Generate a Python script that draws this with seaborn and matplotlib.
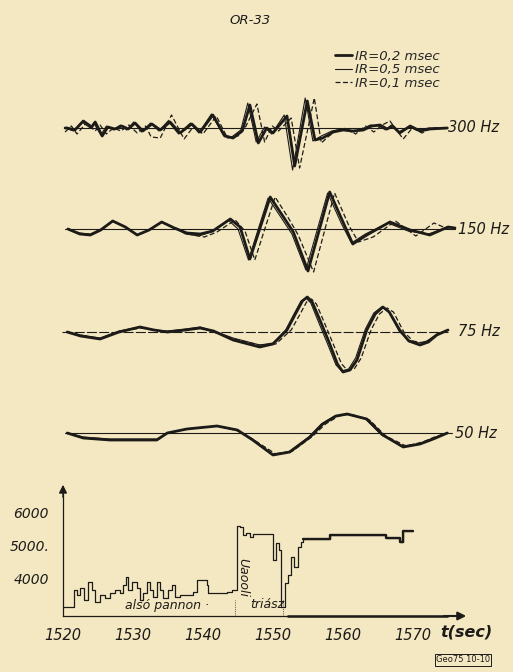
import matplotlib
matplotlib.use('Agg')
import matplotlib.pyplot as plt
from matplotlib.lines import Line2D
import pandas as pd
import seaborn as sns

sns.set_theme(style='white')
plt.rcParams['font.family'] = ['DejaVu Sans']

paper = '#f4e8c3'
ink = '#1d1b18'

# ---------------- data: filtered traces (t in s, amplitude in px) ----------------
hz300_ir02 = [(1520.3, 0), (1520.6, 0), (1521.7, -2), (1522.9, 7), (1524.1, 1), (1524.6, 6), (1525.6, -8),
              (1526.4, 1), (1527.4, -1), (1528.4, 2), (1529.3, -1), (1530.3, 5), (1531.4, -3), (1532.7, 4),
              (1533.9, -2), (1535.3, 6), (1536.7, -5), (1538.4, 4), (1539.6, -4), (1541.4, 13), (1543.1, -8),
              (1544.3, -10), (1545.6, -3), (1546.7, 23), (1547.9, -15), (1549.1, 0), (1550.0, -5), (1552.0, 12),
              (1553.1, -38), (1554.9, 27), (1556.0, -12), (1557.1, -10), (1558.6, -4), (1560.0, -2), (1561.4, -3),
              (1562.9, -2), (1564.1, 2), (1565.3, 3), (1566.3, -1), (1567.1, 2), (1568.1, -5), (1569.6, 2),
              (1571.0, -3), (1572.4, -1), (1574.9, 0)]
hz300_ir05 = [(1520.3, 0), (1521.5, -3), (1522.7, 6), (1523.9, 0), (1524.4, 5), (1525.4, -7), (1526.2, 2),
              (1527.2, -2), (1528.2, 3), (1529.1, -2), (1530.1, 6), (1531.2, -4), (1532.5, 5), (1533.7, -3),
              (1535.0, 7), (1536.5, -6), (1538.2, 5), (1539.4, -5), (1541.2, 14), (1542.9, -7), (1544.1, -9),
              (1545.4, -2), (1546.4, 25), (1547.6, -14), (1548.8, 1), (1549.8, -6), (1551.6, 13), (1552.8, -42),
              (1554.6, 30), (1555.7, -13), (1556.9, -8), (1558.4, -3), (1559.8, -1), (1561.2, -4), (1562.7, -1),
              (1563.9, 3), (1565.1, 2), (1566.1, -2), (1566.9, 3), (1567.9, -4), (1569.4, 1), (1570.8, -2),
              (1572.2, 0), (1574.9, 0)]
hz300_ir01 = [(1520.3, -4), (1521.2, 2), (1522.0, -6), (1523.3, 5), (1524.6, -3), (1525.3, 3), (1526.2, -6),
              (1527.2, 0), (1528.3, -3), (1529.4, 3), (1530.6, -5), (1531.8, 2), (1532.6, -9), (1533.9, -10),
              (1535.5, 13), (1537.3, -11), (1538.7, 2), (1540.0, -6), (1541.9, 12), (1543.5, -10), (1545.0, -8),
              (1546.0, 0), (1547.7, 24), (1548.8, -14), (1549.9, 2), (1550.8, -3), (1552.6, 10), (1553.8, -40),
              (1555.9, 30), (1556.9, -15), (1558.0, -8), (1559.2, -2), (1560.5, 0), (1561.8, -6), (1563.2, 2),
              (1564.4, -4), (1565.6, 3), (1566.7, 7), (1568.6, -11), (1569.9, 0), (1571.3, -5), (1572.6, 0),
              (1574.9, 0)]

hz150_ir02 = [(1520.7, 0), (1522.4, -5), (1523.9, -6), (1525.4, -1), (1527.1, 8), (1528.9, 2), (1530.6, -6),
              (1532.3, -1), (1534.1, 7), (1535.9, 1), (1537.7, -4), (1539.6, -5), (1541.4, -2), (1543.9, 10),
              (1545.3, 2), (1546.7, -30), (1549.6, 32), (1551.4, 13), (1552.9, -3), (1555.0, -42), (1558.1, 37),
              (1560.0, 7), (1561.4, -15), (1563.4, -6), (1566.7, 7), (1569.6, -1), (1572.4, -6), (1575.0, 2),
              (1576.0, 1)]
hz150_ir05 = [(1520.7, 0), (1522.4, -4), (1523.9, -5), (1525.4, 0), (1527.1, 8), (1528.9, 2), (1530.6, -6),
              (1532.3, -1), (1534.1, 7), (1535.9, 1), (1537.5, -5), (1539.4, -7), (1541.2, -3), (1543.6, 9),
              (1545.0, 0), (1546.5, -31), (1549.3, 31), (1551.2, 11), (1552.7, -5), (1554.7, -41), (1557.8, 36),
              (1559.8, 5), (1561.2, -14), (1563.2, -5), (1566.4, 6), (1569.3, -2), (1572.2, -5), (1575.0, 2),
              (1576.0, 1)]
hz150_ir01 = [(1520.7, 0), (1522.4, -5), (1523.9, -6), (1525.4, -1), (1527.1, 8), (1528.9, 2), (1530.6, -6),
              (1532.3, -1), (1534.1, 7), (1536.1, 1), (1537.9, -5), (1540.2, -8), (1542.0, -3), (1544.6, 9),
              (1546.0, -2), (1547.4, -31), (1550.3, 32), (1552.2, 11), (1553.6, -6), (1555.8, -43), (1558.8, 36),
              (1560.8, 4), (1562.2, -13), (1564.3, -8), (1567.5, 8), (1570.4, -7), (1573.0, 6), (1575.0, 0),
              (1576.0, 1)]

hz75_ir02 = [(1520.6, 0), (1522.5, -4), (1525.3, -7), (1528.0, 0), (1531.0, 5), (1533.0, 2), (1534.9, 0),
             (1537.5, 2), (1539.6, 4), (1541.5, 1), (1544.3, -8), (1548.1, -15), (1550.0, -12), (1552.0, 2),
             (1553.2, 18), (1554.2, 31), (1554.9, 35), (1555.6, 30), (1556.7, 12), (1558.0, -10), (1559.2, -32),
             (1560.0, -40), (1561.0, -38), (1562.0, -28), (1563.4, 2), (1564.6, 18), (1565.7, 25), (1566.6, 20),
             (1568.1, 2), (1569.4, -9), (1571.0, -13), (1572.2, -10), (1573.4, -3), (1575.0, 2)]
hz75_ir05 = [(1520.6, 0), (1522.5, -3), (1525.3, -6), (1528.0, 1), (1531.0, 5), (1533.0, 2), (1534.9, 1),
             (1537.5, 3), (1539.6, 5), (1541.5, 1), (1544.3, -6), (1548.1, -13), (1550.0, -11), (1551.8, 2),
             (1553.0, 18), (1554.0, 31), (1554.7, 34), (1555.4, 29), (1556.5, 10), (1557.8, -12), (1559.0, -33),
             (1559.8, -39), (1560.8, -37), (1561.8, -26), (1563.2, 3), (1564.4, 19), (1565.5, 25), (1566.5, 21),
             (1568.0, 1), (1569.3, -8), (1570.8, -11), (1572.0, -9), (1573.4, -2), (1575.0, 2)]
hz75_ir01 = [(1520.6, 0), (1522.5, -3), (1525.3, -7), (1528.0, 0), (1531.0, 4), (1533.0, 2), (1534.9, 0),
             (1537.5, 2), (1539.6, 4), (1541.5, 0), (1544.3, -7), (1548.1, -13), (1550.4, -12), (1552.6, 2),
             (1553.8, 17), (1554.8, 30), (1555.5, 33), (1556.2, 28), (1557.3, 10), (1558.6, -12), (1559.8, -32),
             (1560.6, -38), (1561.6, -37), (1562.6, -26), (1564.0, 2), (1565.2, 18), (1566.3, 24), (1567.2, 20),
             (1568.7, 0), (1570.0, -9), (1571.4, -11), (1572.6, -7), (1573.6, -2), (1575.0, 2)]

hz50_ir02 = [(1520.6, 0), (1522.9, -5), (1526.7, -7), (1533.4, -7), (1534.9, 0), (1537.7, 4), (1542.0, 7),
             (1544.9, 3), (1547.1, -7), (1550.0, -22), (1552.4, -19), (1555.3, -4), (1557.1, 9), (1559.0, 17),
             (1560.6, 19), (1563.4, 14), (1565.7, -2), (1568.6, -14), (1571.0, -11), (1572.9, -6), (1574.9, 0)]
hz50_ir05 = [(1520.6, 0), (1522.9, -4), (1526.7, -6), (1533.4, -6), (1534.9, 0), (1537.7, 4), (1542.0, 7),
             (1544.9, 3), (1547.1, -6), (1549.8, -21), (1552.2, -19), (1555.1, -4), (1556.9, 9), (1558.8, 17),
             (1560.4, 19), (1563.2, 14), (1565.5, -2), (1568.4, -13), (1570.8, -11), (1572.9, -5), (1574.9, 0)]
hz50_ir01 = [(1520.6, 0), (1522.9, -5), (1526.7, -7), (1533.4, -7), (1534.9, 0), (1537.7, 4), (1542.0, 7),
             (1545.1, 2), (1547.5, -8), (1550.4, -21), (1552.8, -18), (1555.7, -3), (1557.5, 9), (1559.4, 17),
             (1561.0, 19), (1563.8, 13), (1566.1, -3), (1569.0, -13), (1571.4, -9), (1573.1, -4), (1574.9, 0)]

freq_labels = ['300 Hz', '150 Hz', '75 Hz', '50 Hz']
ir_labels = ['IR=0,2 msec', 'IR=0,5 msec', 'IR=0,1 msec']

# ---------------- data: velocity log ----------------
vel_t = [1520.0, 1521.5, 1522.0, 1522.4, 1523.0, 1523.6, 1524.1, 1524.6, 1525.3, 1526.0, 1526.7, 1527.4,
         1528.1, 1528.6, 1529.0, 1529.3, 1529.8, 1530.5, 1531.0, 1531.4, 1532.0, 1532.4, 1532.9, 1533.4,
         1533.9, 1534.3, 1535.0, 1535.5, 1536.0, 1536.7, 1537.7, 1538.6, 1539.1, 1540.5, 1540.7, 1542.4,
         1543.4, 1544.1, 1544.8, 1545.3, 1545.7, 1546.2, 1546.7, 1547.2, 1550.0, 1550.4, 1550.8, 1551.2,
         1551.7, 1552.2, 1552.5, 1553.0, 1553.5, 1554.0, 1554.3, 1558.1, 1566.2, 1568.1, 1568.5, 1570.0]
vel_v = [3120, 3630, 3480, 3680, 3320, 3890, 3630, 3270, 3480, 3370, 3530, 3630,
         3530, 3790, 4040, 3630, 3890, 3680, 3320, 3530, 3890, 3630, 3420, 3890,
         3630, 3370, 3630, 3790, 3420, 3480, 3480, 3580, 3940, 3790, 3530, 3530,
         3580, 3630, 5600, 5580, 5330, 5370, 5260, 5350, 4550, 5070, 4860, 3120,
         3840, 4090, 4660, 4350, 4960, 5120, 5190, 5320, 5220, 5120, 5460, 5460]
vel_ticks = [4000, 5000, 6000]
time_ticks = [1520, 1530, 1540, 1550, 1560, 1570]

# layout (pixel positions of trace baselines / label x)
baseline_px = [128, 229, 332, 433]
label_t = [1575.0, 1576.5, 1576.4, 1576.0]
baseline_end = [1574.9, 1576.0, 1575.0, 1575.6]

W, H = 513, 672
fig = plt.figure(figsize=(W / 100, H / 100), dpi=100, facecolor=paper)
xlim = (1520 - 63 / 7, 1520 + (W - 63) / 7)

# ---------------- upper panel: traces ----------------
ax = fig.add_axes([0, 1 - 470 / H, 1, 470 / H])
ax.set_facecolor('none')
ax.set_xlim(*xlim)
ax.set_ylim(-470, 0)
ax.axis('off')

groups = [(hz300_ir02, hz300_ir05, hz300_ir01), (hz150_ir02, hz150_ir05, hz150_ir01),
          (hz75_ir02, hz75_ir05, hz75_ir01), (hz50_ir02, hz50_ir05, hz50_ir01)]
styles = [dict(lw=2.0, ls='-'), dict(lw=0.8, ls='-'), dict(lw=0.9, ls=(0, (4, 2)))]

for i, grp in enumerate(groups):
    base = baseline_px[i]
    bl_style = (0, (9, 2)) if i == 2 else '-'
    ax.plot([1520.3 if i != 2 else 1519.8, baseline_end[i]], [-base, -base], color=ink, lw=0.8, ls=bl_style)
    for trace, st in zip(grp, styles):
        df = pd.DataFrame(trace, columns=['t', 'amp'])
        df['y'] = df['amp'] - base
        sns.lineplot(data=df, x='t', y='y', ax=ax, color=ink, estimator=None, sort=False,
                     lw=st['lw'], linestyle=st['ls'])
    ax.text(label_t[i], -base, freq_labels[i], fontsize=10.5, style='italic',
            color=ink, ha='left', va='center')
ax.set_xlabel('')
ax.set_ylabel('')

handles = [Line2D([], [], color=ink, **styles[k]) for k in range(3)]
ax.legend(handles, ir_labels, loc='upper left', bbox_to_anchor=(335 / W, 1 - 50 / H),
          bbox_transform=fig.transFigure, frameon=False, handlelength=1.3,
          handletextpad=0.2, labelspacing=0.02, borderpad=0, borderaxespad=0,
          prop=dict(style='italic', size=9.5))

fig.text(250 / W, 1 - 20 / H, 'OR-33', fontsize=9.5, style='italic', color=ink, ha='center', va='center')

# ---------------- lower panel: velocity log ----------------
ax2 = fig.add_axes([0, 0, 1, 202 / H])
ax2.set_facecolor('none')
ax2.set_xlim(*xlim)
v_of = lambda y: 4000 + (578 - y) / 32.5 * 1000
ax2.set_ylim(v_of(H), v_of(470))
axis_v = v_of(616)

vel = pd.DataFrame({'t': vel_t, 'v': vel_v})
sns.lineplot(data=vel, x='t', y='v', ax=ax2, color=ink, lw=0.9, estimator=None, sort=False,
             drawstyle='steps-post')
sns.lineplot(data=vel[vel['t'] >= 1554.3], x='t', y='v', ax=ax2, color=ink, lw=1.7, estimator=None,
             sort=False, drawstyle='steps-post')
ax2.set_xlabel('')
ax2.set_ylabel('')

for s in ['top', 'right']:
    ax2.spines[s].set_visible(False)
ax2.spines['left'].set_position(('data', 1520))
ax2.spines['bottom'].set_position(('data', axis_v))
ax2.spines['left'].set_bounds(axis_v, v_of(490))
ax2.spines['bottom'].set_bounds(1520, 1575)
for s in ['left', 'bottom']:
    ax2.spines[s].set_color(ink)
    ax2.spines[s].set_linewidth(0.9)
ax2.plot([1552, 1575], [axis_v, axis_v], color=ink, lw=1.8, solid_capstyle='butt')
ax2.annotate('', xy=(1520, v_of(482)), xytext=(1520, v_of(500)),
             arrowprops=dict(arrowstyle='-|>', color=ink, lw=1.0, mutation_scale=12))
ax2.annotate('', xy=(1578, axis_v), xytext=(1574, axis_v),
             arrowprops=dict(arrowstyle='-|>', color=ink, lw=1.5, mutation_scale=12))

ax2.set_xticks(time_ticks)
ax2.set_xticklabels([str(t) for t in time_ticks], style='italic', fontsize=10.5, color=ink)
ax2.set_yticks(vel_ticks)
ax2.set_yticklabels(['4000', '5000.', '6000'], style='italic', fontsize=10, color=ink)
ax2.tick_params(axis='x', direction='inout', length=5, width=0.8, color=ink, pad=6)
ax2.tick_params(axis='y', direction='inout', length=8, width=0.8, color=ink, pad=6)
ax2.grid(False)

ax2.text(1573.9, v_of(632), 't(sec)', fontsize=11.5, style='italic', weight='bold', color=ink,
         ha='left', va='center')
ax2.text(1534.9, v_of(606), 'alsó pannon ·', fontsize=9, style='italic', color=ink, ha='center', va='center')
ax2.text(1549.2, v_of(604), 'triász', fontsize=9, style='italic', color=ink, ha='center', va='center')
ax2.text(1545.7, v_of(577), 'Uaooli', fontsize=9, style='italic', color=ink, rotation=-90,
         ha='center', va='center')
ax2.plot([1544.6, 1544.6], [axis_v, v_of(600)], color=ink, lw=0.6, ls=':')
ax2.plot([1551.4, 1551.4], [axis_v, v_of(600)], color=ink, lw=0.6, ls=':')

fig.text(463 / W, 1 - 660 / H, 'Geo75 10-10', fontsize=6, color=ink, ha='center', va='center',
         bbox=dict(boxstyle='square,pad=0.15', fc='none', ec=ink, lw=0.7))

fig.savefig('out.png', dpi=100, facecolor=paper)
